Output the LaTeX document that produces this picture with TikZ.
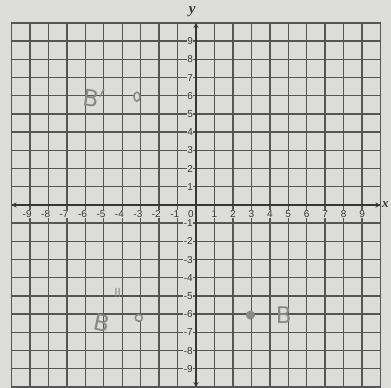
\documentclass[tikz,border=0pt]{standalone}
\usepackage{fontspec}
\usetikzlibrary{arrows.meta,shapes.geometric}
\setmainfont{Liberation Serif}
\newfontfamily\tickfont{Liberation Sans}
\newfontfamily\handfont{DejaVu Sans}
\definecolor{paper}{HTML}{DCDCDA}
\definecolor{gridc}{HTML}{555555}
\definecolor{axisc}{HTML}{353535}
\definecolor{pencil}{HTML}{888888}
\tikzset{
  gridline/.style={draw=gridc, line width=1.4pt},
  axisline/.style={draw=axisc, line width=1.9pt},
  ticklab/.style={font=\tickfont\fontsize{10}{10}\selectfont, text=axisc, fill=paper, inner sep=0.4pt},
  hand/.style={font=\handfont\fontsize{23}{23}\selectfont, text=pencil},
  hollowpt/.style={ellipse, draw=pencil, fill=paper, line width=1.5pt, minimum width=6pt, minimum height=9pt, inner sep=0pt},
  filledpt/.style={circle, fill=pencil, draw=pencil, minimum size=8.5pt, inner sep=0pt}
}
\begin{document}
\begin{tikzpicture}[x=1pt,y=1pt]
\fill[paper] (0,0) rectangle (391,388);
\useasboundingbox (0,0) rectangle (391,388);
\begin{scope}[shift={(196,183)}, x=18.45pt, y=18.2pt]
  % grid
  \foreach \i in {-9,...,9} {
    \draw[gridline] (\i,-10) -- (\i,10);
    \draw[gridline] (-10,\i) -- (10,\i);
  }
  \draw[gridline, line width=1.9pt] (-10,-10) rectangle (10,10);
  % tick labels
  \foreach \i in {-9,...,-1} {
    \node[ticklab] (xl\i) at (\i-0.15,-0.5) {\i};
    \node[ticklab] (yl\i) at (-0.42,\i) {\i};
  }
  \foreach \i in {1,...,9} {
    \node[ticklab] (xl\i) at (\i,-0.5) {\i};
    \node[ticklab] (yl\i) at (-0.32,\i) {\i};
  }
  \node[ticklab] (xl0) at (-0.27,-0.5) {0};
  % axes
  \coordinate (orig) at (0,0);
  \coordinate (xl) at (-10,0);
  \coordinate (xr) at (10,0);
  \coordinate (yb) at (0,-10);
  \coordinate (yt) at (0,10);
  \draw[axisline, -{Stealth[length=5pt,width=5pt]}] (orig) -- (xr);
  \draw[axisline, -{Stealth[length=5pt,width=5pt]}] (orig) -- (xl);
  \draw[axisline, -{Stealth[length=5pt,width=5pt]}] (orig) -- (yt);
  \draw[axisline, -{Stealth[length=5pt,width=5pt]}] (orig) -- (yb);
  \node[font=\bfseries\itshape\fontsize{15}{15}\selectfont, text=axisc] (ylab) at (-0.2,10.6) {y};
  \node[font=\bfseries\itshape\fontsize{13}{13}\selectfont, text=axisc, anchor=west, inner sep=0pt] (xlab) at (10.08,0.0) {x};
  % handwritten points
  \node[hollowpt] (Bp) at (-3.2,5.95) {};
  \node[hollowpt, minimum height=7pt, minimum width=7pt] (Bpp) at (-3.1,-6.2) {};
  \node[filledpt] (B) at (2.95,-6.05) {};
  \node[hand, rotate=-8] (Bplab) at (-5.55,5.9) {B$'$};
  \node[hand, rotate=-12] (Bpplab) at (-5.1,-6.5) {B};
  \node[font=\handfont\fontsize{12}{12}\selectfont, text=pencil] (Bppmark) at (-4.25,-4.85) {ll};
  \node[hand] (Blab) at (4.75,-6.05) {B};
\end{scope}
\end{tikzpicture}
\end{document}
